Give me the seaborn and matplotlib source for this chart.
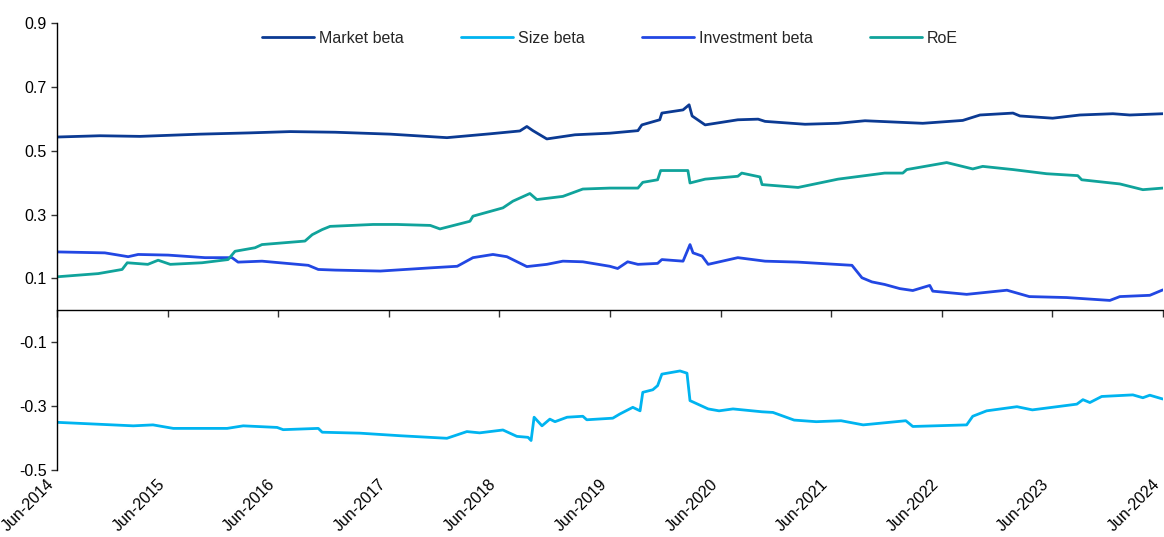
import matplotlib
matplotlib.use("Agg")
import matplotlib.pyplot as plt
import matplotlib.dates as mdates
import seaborn as sns
import pandas as pd

# ── data ──────────────────────────────────────────────────────────────
market_dates = [
    "2014-06-01", "2014-10-21", "2015-03-02", "2015-09-17", "2016-02-28", "2016-07-10",
    "2016-12-06", "2017-06-06", "2017-12-10", "2018-05-01", "2018-08-08", "2018-08-31",
    "2018-09-20", "2018-11-05", "2019-02-06", "2019-06-01", "2019-09-02", "2019-09-15",
    "2019-11-13", "2019-11-20", "2020-01-29", "2020-02-18", "2020-02-28", "2020-04-11",
    "2020-07-28", "2020-10-03", "2020-10-26", "2021-03-07", "2021-06-24", "2021-09-21",
    "2022-03-31", "2022-08-10", "2022-10-06", "2023-01-23", "2023-02-15", "2023-06-03",
    "2023-09-01", "2023-12-19", "2024-02-13", "2024-06-01",
]
market_beta = [
    0.543, 0.547, 0.545, 0.552, 0.556, 0.560,
    0.558, 0.552, 0.541, 0.553, 0.562, 0.576,
    0.563, 0.537, 0.550, 0.555, 0.563, 0.581,
    0.597, 0.618, 0.628, 0.644, 0.609, 0.581,
    0.597, 0.599, 0.592, 0.583, 0.586, 0.594,
    0.586, 0.595, 0.612, 0.618, 0.609, 0.602,
    0.612, 0.616, 0.612, 0.616,
]

size_dates = [
    "2014-06-01", "2015-02-08", "2015-04-14", "2015-06-20", "2015-12-15", "2016-02-06",
    "2016-05-28", "2016-06-17", "2016-10-11", "2016-10-24", "2017-02-26", "2017-07-08",
    "2017-12-10", "2018-02-14", "2018-03-28", "2018-06-13", "2018-07-29", "2018-09-04",
    "2018-09-14", "2018-09-24", "2018-10-20", "2018-11-15", "2018-12-02", "2019-01-11",
    "2019-03-04", "2019-03-17", "2019-06-11", "2019-07-04", "2019-08-16", "2019-09-09",
    "2019-09-18", "2019-10-21", "2019-11-06", "2019-11-20", "2020-01-19", "2020-02-11",
    "2020-02-21", "2020-04-21", "2020-05-27", "2020-07-12", "2020-10-16", "2020-11-21",
    "2021-01-30", "2021-04-13", "2021-07-04", "2021-09-15", "2022-02-03", "2022-02-26",
    "2022-08-23", "2022-09-12", "2022-10-28", "2023-02-05", "2023-03-28", "2023-08-22",
    "2023-09-11", "2023-10-04", "2023-11-12", "2024-02-23", "2024-03-27", "2024-04-19",
    "2024-06-01",
]
size_beta = [
    -0.351, -0.362, -0.359, -0.370, -0.370, -0.362,
    -0.367, -0.374, -0.370, -0.382, -0.385, -0.393,
    -0.401, -0.380, -0.384, -0.375, -0.395, -0.398,
    -0.408, -0.335, -0.362, -0.341, -0.349, -0.335,
    -0.332, -0.343, -0.338, -0.325, -0.304, -0.315,
    -0.257, -0.249, -0.236, -0.200, -0.190, -0.197,
    -0.283, -0.309, -0.315, -0.309, -0.318, -0.320,
    -0.344, -0.349, -0.346, -0.359, -0.346, -0.364,
    -0.359, -0.332, -0.315, -0.302, -0.312, -0.294,
    -0.280, -0.289, -0.270, -0.265, -0.274, -0.266,
    -0.278,
]

invest_dates = [
    "2014-06-01", "2014-11-06", "2015-01-22", "2015-02-24", "2015-06-03", "2015-10-03",
    "2015-12-31", "2016-01-20", "2016-04-08", "2016-09-08", "2016-10-11", "2016-12-06",
    "2017-05-04", "2017-10-16", "2018-01-13", "2018-03-06", "2018-05-11", "2018-06-26",
    "2018-08-31", "2018-11-05", "2018-12-28", "2019-03-04", "2019-06-01", "2019-06-27",
    "2019-07-30", "2019-09-02", "2019-11-06", "2019-11-20", "2020-01-29", "2020-02-21",
    "2020-03-02", "2020-04-01", "2020-04-21", "2020-07-28", "2020-10-26", "2021-02-12",
    "2021-08-09", "2021-09-11", "2021-10-14", "2021-11-25", "2022-01-14", "2022-02-26",
    "2022-04-23", "2022-05-03", "2022-08-23", "2023-01-03", "2023-03-18", "2023-07-19",
    "2023-12-09", "2024-01-11", "2024-04-19", "2024-06-01",
]
investment_beta = [
    0.183, 0.180, 0.168, 0.175, 0.173, 0.165,
    0.165, 0.151, 0.154, 0.141, 0.128, 0.126,
    0.123, 0.133, 0.138, 0.165, 0.175, 0.168,
    0.137, 0.144, 0.154, 0.152, 0.138, 0.131,
    0.152, 0.144, 0.147, 0.159, 0.154, 0.206,
    0.180, 0.170, 0.144, 0.165, 0.154, 0.151,
    0.141, 0.102, 0.089, 0.081, 0.068, 0.062,
    0.078, 0.060, 0.050, 0.063, 0.043, 0.040,
    0.031, 0.043, 0.047, 0.064,
]

roe_dates = [
    "2014-06-01", "2014-10-15", "2015-01-02", "2015-01-19", "2015-03-28", "2015-05-01",
    "2015-06-10", "2015-09-23", "2015-12-18", "2016-01-10", "2016-03-16", "2016-04-08",
    "2016-08-28", "2016-09-21", "2016-10-24", "2016-11-19", "2017-04-10", "2017-06-28",
    "2017-10-16", "2017-11-17", "2018-02-24", "2018-03-06", "2018-06-13", "2018-07-16",
    "2018-09-10", "2018-10-03", "2018-12-28", "2019-03-04", "2019-06-01", "2019-09-02",
    "2019-09-18", "2019-11-06", "2019-11-16", "2020-02-14", "2020-02-21", "2020-04-11",
    "2020-07-28", "2020-08-10", "2020-10-09", "2020-10-16", "2021-02-12", "2021-06-24",
    "2021-11-25", "2022-01-24", "2022-02-06", "2022-06-18", "2022-09-12", "2022-10-15",
    "2023-01-23", "2023-05-14", "2023-08-25", "2023-09-07", "2024-01-11", "2024-03-27",
    "2024-06-01",
]
roe = [
    0.105, 0.115, 0.128, 0.149, 0.144, 0.157,
    0.144, 0.149, 0.159, 0.185, 0.196, 0.206,
    0.217, 0.237, 0.253, 0.263, 0.269, 0.269,
    0.266, 0.255, 0.279, 0.295, 0.321, 0.342,
    0.366, 0.347, 0.357, 0.380, 0.383, 0.383,
    0.401, 0.409, 0.438, 0.438, 0.399, 0.411,
    0.420, 0.430, 0.418, 0.394, 0.385, 0.411,
    0.430, 0.430, 0.441, 0.463, 0.443, 0.451,
    0.441, 0.428, 0.422, 0.409, 0.396, 0.378,
    0.383,
]

series_names = ["Market beta", "Size beta", "Investment beta", "RoE"]
colors = ["#0b3a93", "#00b4f0", "#2247e3", "#10a39b"]
tick_years = list(range(2014, 2025))

# ── long-form table for seaborn ───────────────────────────────────────
parts = []
for name, dates, vals in zip(
    series_names,
    [market_dates, size_dates, invest_dates, roe_dates],
    [market_beta, size_beta, investment_beta, roe],
):
    parts.append(pd.DataFrame({"date": pd.to_datetime(dates), "value": vals, "series": name}))
df = pd.concat(parts, ignore_index=True)

sns.set_style("white")
plt.rcParams["font.family"] = ["Liberation Sans", "DejaVu Sans"]

fig = plt.figure(figsize=(11.64, 5.37), dpi=100)
ax = fig.add_axes([0.049, 0.125, 0.950, 0.832])

sns.lineplot(data=df, x="date", y="value", hue="series", hue_order=series_names,
             palette=colors, estimator=None, sort=True, linewidth=2.0, ax=ax)

# y axis
ax.set_ylim(-0.5, 0.9)
yt = [-0.5, -0.3, -0.1, 0.1, 0.3, 0.5, 0.7, 0.9]
ax.set_yticks(yt, [f"{v:.1f}" for v in yt])
ax.set_ylabel("")
ax.set_xlabel("")

# x axis: spine with tick marks at zero, labels along the bottom
x0 = pd.Timestamp("2014-06-01")
x1 = pd.Timestamp("2024-06-01")
ax.set_xlim(x0, x1)
tick_dates = [pd.Timestamp(f"{y}-06-01") for y in tick_years]
tick_nums = mdates.date2num(tick_dates)
ax.set_xticks(tick_dates)
ax.spines["bottom"].set_position(("data", 0))
ax.spines["top"].set_visible(False)
ax.spines["right"].set_visible(False)
for s in ("left", "bottom"):
    ax.spines[s].set_color("#000000")
    ax.spines[s].set_linewidth(1.0)
ax.tick_params(axis="x", bottom=True, direction="out", length=5, width=1,
               color="#333333", labelbottom=False)
ax.tick_params(axis="y", left=True, direction="out", length=4, width=1,
               color="#333333", labelsize=11.5, labelcolor="#000000", pad=3.5)

sec = ax.secondary_xaxis("bottom")
sec.set_xticks(tick_nums, [d.strftime("%b-%Y") for d in tick_dates])
sec.spines["bottom"].set_visible(False)
sec.tick_params(axis="x", bottom=True, length=0, labelsize=11.5, labelcolor="#000000", pad=12.5)
for lbl in sec.get_xticklabels():
    lbl.set_rotation(45)
    lbl.set_ha("right")
    lbl.set_va("bottom")
    lbl.set_rotation_mode("anchor")

sns.move_legend(ax, "upper center", bbox_to_anchor=(0.5, 1.015), ncol=4, frameon=False,
                title=None, fontsize=11.5, handlelength=3.3, columnspacing=3.55,
                handletextpad=0.3)

fig.savefig("out.png", dpi=100, facecolor="white")
